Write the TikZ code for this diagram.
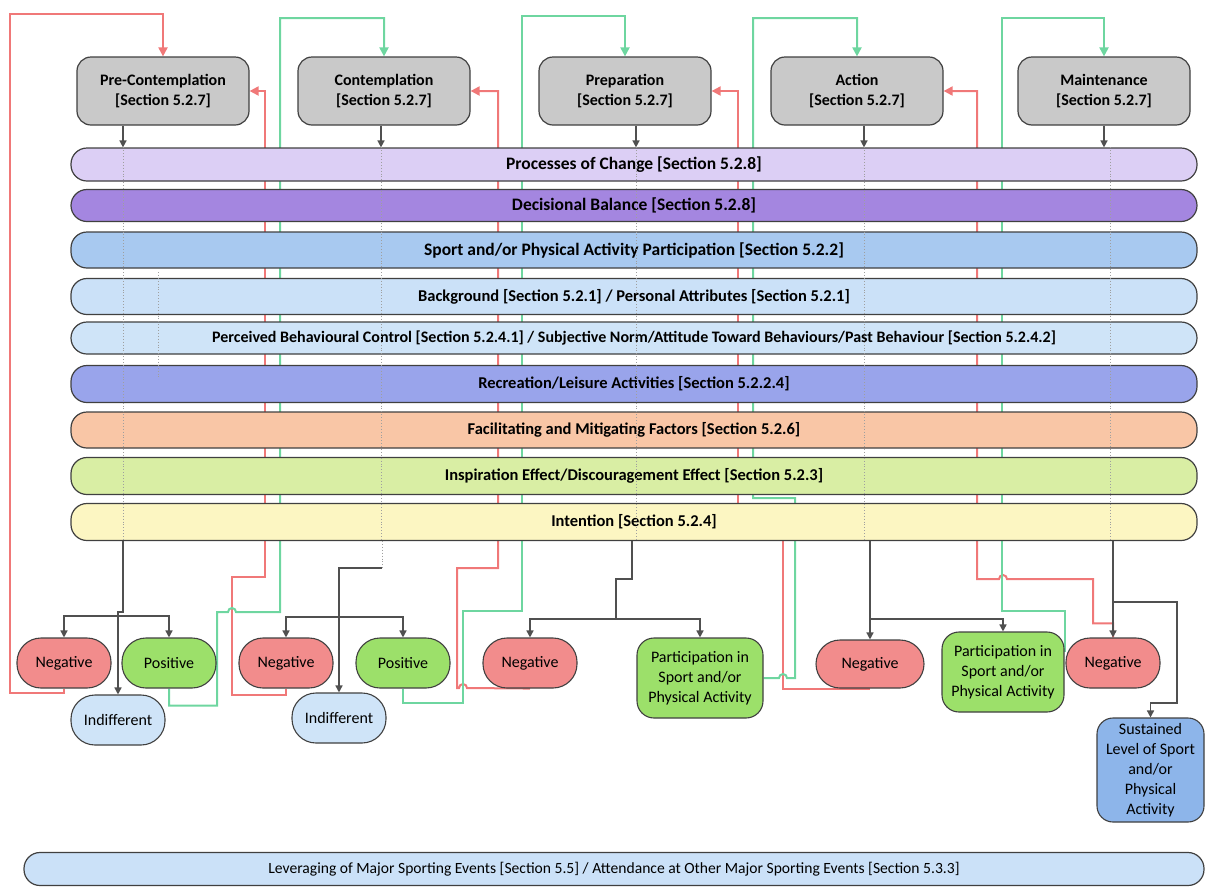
\documentclass[tikz,border=0pt]{standalone}
\usepackage{fontspec}
\setmainfont{Carlito}
\usetikzlibrary{positioning, arrows.meta, calc}
\pgfdeclarelayer{background}
\pgfsetlayers{background,main}

\definecolor{stagegray}{HTML}{C9C9C9}
\definecolor{edgegray}{HTML}{404040}
\definecolor{arrgray}{HTML}{505050}
\definecolor{relapse}{HTML}{F07878}
\definecolor{advance}{HTML}{6ED6A0}
\definecolor{negfill}{HTML}{F28C8C}
\definecolor{posfill}{HTML}{9CE06A}
\definecolor{indfill}{HTML}{CFE4F8}
\definecolor{susfill}{HTML}{8DB5EA}
\definecolor{barA}{HTML}{DCCFF5}
\definecolor{barB}{HTML}{A486E0}
\definecolor{barC}{HTML}{A8C9F0}
\definecolor{barD}{HTML}{CBE1F8}
\definecolor{barE}{HTML}{CFE4F8}
\definecolor{barF}{HTML}{99A4EB}
\definecolor{barG}{HTML}{F9C6A6}
\definecolor{barH}{HTML}{D9EEA4}
\definecolor{barI}{HTML}{FCF6C2}

\begin{document}
\begin{tikzpicture}[x=1pt,y=-1pt,
  stage/.style={draw=edgegray, fill=stagegray, line width=1.2pt, rounded corners=14pt,
    minimum width=172pt, minimum height=68pt, inner sep=0pt, align=center,
    font=\fontsize{16}{20}\selectfont\bfseries},
  bar/.style={draw=edgegray, line width=1.2pt, rounded corners=16pt,
    minimum width=1126pt, inner sep=0pt, font=\fontsize{16.5}{18}\selectfont\bfseries},
  pill/.style={draw=edgegray, line width=1.1pt, rounded corners=24pt,
    minimum width=94pt, minimum height=50pt, inner sep=0pt, align=center,
    font=\fontsize{16}{20}\selectfont},
  outbox/.style={draw=edgegray, line width=1.1pt, rounded corners=17pt,
    inner sep=0pt, align=center, font=\fontsize{16}{20}\selectfont},
  grayarr/.style={draw=arrgray, line width=1.5pt, -{Triangle[length=7pt,width=7pt]}},
  grayline/.style={draw=arrgray, line width=1.5pt},
  dotline/.style={draw=gray!75, line width=0.9pt, dotted},
  redarr/.style={draw=relapse, line width=2pt, -{Triangle[length=9pt,width=9pt]}},
  greenarr/.style={draw=advance, line width=2pt, -{Triangle[length=9pt,width=9pt]}},
]
\useasboundingbox (0,0) rectangle (1205,887);

% stages
\node[stage] (pre)   at (163,91)  {Pre-Contemplation\\{[}Section 5.2.7{]}};
\node[stage] (cont)  at (384,91)  {Contemplation\\{[}Section 5.2.7{]}};
\node[stage] (prep)  at (625,91)  {Preparation\\{[}Section 5.2.7{]}};
\node[stage] (act)   at (857,91)  {Action\\{[}Section 5.2.7{]}};
\node[stage] (maint) at (1104,91) {Maintenance\\{[}Section 5.2.7{]}};

% factor bars
\node[bar, fill=barA, minimum height=33pt, font=\fontsize{17.5}{20}\selectfont\bfseries] (procs) at (634,164.5)
  {Processes of Change [Section 5.2.8]};
\node[bar, fill=barB, minimum height=32pt, font=\fontsize{17.5}{20}\selectfont\bfseries] (decis) at (634,205.5)
  {Decisional Balance [Section 5.2.8]};
\node[bar, fill=barC, minimum height=36pt, font=\fontsize{17.5}{20}\selectfont\bfseries] (sport) at (634,250)
  {Sport and/or Physical Activity Participation [Section 5.2.2]};
\node[bar, fill=barD, minimum height=36pt] (backg)  at (634,296.5) {Background [Section 5.2.1] / Personal Attributes [Section 5.2.1]};
\node[bar, fill=barE, minimum height=32pt, font=\fontsize{16}{18}\selectfont\bfseries] (percv) at (634,338)
  {Perceived Behavioural Control [Section 5.2.4.1] / Subjective Norm/Attitude Toward Behaviours/Past Behaviour [Section 5.2.4.2]};
\node[bar, fill=barF, minimum height=37pt] (recr)   at (634,384)   {Recreation/Leisure Activities [Section 5.2.2.4]};
\node[bar, fill=barG, minimum height=36pt] (facil)  at (634,430)   {Facilitating and Mitigating Factors [Section 5.2.6]};
\node[bar, fill=barH, minimum height=37pt] (inspi)  at (634,476)   {Inspiration Effect/Discouragement Effect [Section 5.2.3]};
\node[bar, fill=barI, minimum height=37pt] (intent) at (634,522)   {Intention [Section 5.2.4]};
\node[bar, fill=barD, minimum height=33pt, minimum width=1180pt, font=\fontsize{15.6}{17}\selectfont] (lever) at (614,869)
  {Leveraging of Major Sporting Events [Section 5.5] / Attendance at Other Major Sporting Events [Section 5.3.3]};

% outcomes
\node[pill, fill=negfill] (neg1) at (64,663)  {Negative};
\node[pill, fill=posfill] (pos1) at (169,663) {Positive};
\node[pill, fill=indfill] (ind1) at (118,720) {Indifferent};
\node[pill, fill=negfill] (neg2) at (286,663) {Negative};
\node[pill, fill=posfill] (pos2) at (403,663) {Positive};
\node[pill, fill=indfill] (ind2) at (339,718) {Indifferent};
\node[pill, fill=negfill] (neg3) at (530,663) {Negative};
\node[outbox, fill=posfill, minimum width=126pt, minimum height=80pt] (part3) at (700,678)
  {Participation in\\Sport and/or\\Physical Activity};
\node[pill, fill=negfill, minimum width=108pt, minimum height=48pt] (neg4) at (870,664) {Negative};
\node[outbox, fill=posfill, minimum width=122pt, minimum height=80pt] (part4) at (1003,672)
  {Participation in\\Sport and/or\\Physical Activity};
\node[pill, fill=negfill] (neg5) at (1113,663) {Negative};
\node[outbox, fill=susfill, rounded corners=16pt, minimum width=107pt, minimum height=104pt] (sust) at (1150.5,770)
  {Sustained\\Level of Sport\\and/or\\Physical\\Activity};

% columns
\coordinate (c1) at (123,0);
\coordinate (c2) at (381,0);
\coordinate (c3) at (636,0);
\coordinate (c4) at (864,0);
\coordinate (c5) at (1110,0);

\draw[grayarr] (pre.south -| c1) -- (procs.north -| c1);
\draw[grayarr] (cont.south -| c2) -- (procs.north -| c2);
\draw[grayarr] (prep.south -| c3) -- (procs.north -| c3);
\draw[grayarr] (act.south -| c4) -- (procs.north -| c4);
\draw[grayarr] (maint.south -| maint) -- (procs.north -| maint);

\foreach \c in {c1,c2,c3,c4,c5}
  \draw[dotline] (procs.north -| \c) -- (intent.south -| \c);
\draw[dotline] (158,272) -- (158,378);

% stage outputs
\coordinate (j1) at (118,616);
\draw[grayarr] (intent.south -| c1) |- (118,612) -- (ind1.north);
\draw[grayarr] (j1) -| (neg1.north);
\draw[grayarr] (j1) -| (pos1.north);

\coordinate (k2) at (382,568);
\coordinate (j2) at (339,617);
\draw[dotline] (intent.south -| k2) -- (k2);
\draw[grayarr] (k2) -| (ind2.north);
\draw[grayarr] (j2) -| (neg2.north);
\draw[grayarr] (j2) -| (pos2.north);

\coordinate (j3) at (616,619);
\draw[grayline] (intent.south -| 632,0) |- (616,579) -- (j3);
\draw[grayarr] (j3) -| (neg3.north);
\draw[grayarr] (j3) -| (part3.north);

\coordinate (j4) at (870,619);
\draw[grayarr] (intent.south -| neg4.north) -- (neg4.north);
\draw[grayarr] (j4) -| (part4.north);

\coordinate (j5) at (1113,602);
\draw[grayarr] (intent.south -| neg5.north) -- (neg5.north);
\draw[grayarr] (j5) -| (1177,703) -| (sust.north);

% relapse and progression loops
\begin{pgfonlayer}{background}
\draw[redarr] (neg1.south) -- ++(0,4) -| (10,14) -| (pre.north);
\draw[redarr] (neg2.south) -- ++(0,6) -| (232,577) -- (265,577) |- (pre.east);
\draw[redarr] (neg3.south) -- (467,688) arc[start angle=0, end angle=-180, radius=4]
  -- (457,688) -- (457,568) -- (498,568) |- (cont.east);
\draw[redarr] (neg4.south) -| (783,522) -- (738,522) |- (prep.east);
\draw[redarr] (neg5.north) -- ++(0,-14) -| (1093,579) -- (1007,579)
  arc[start angle=0, end angle=-180, radius=4] -- (977,579) |- (act.east);

\draw[greenarr] (pos1.south) -- ++(0,17) -| (217,612) -- (228,612)
  arc[start angle=180, end angle=360, radius=4] -- (280,612) -- (280,18) -| (cont.north);
\draw[greenarr] (pos2.south) -- ++(0,14) -| (463,611) -| (522,16) -| (prep.north);
\draw[greenarr] (part3.east) -- (779,678) arc[start angle=180, end angle=360, radius=4]
  -- (795,678) -- (795,498) -- (753,498) -- (753,18) -| (act.north);
\draw[greenarr] ([yshift=20pt]part4.east) |- (1002,611) -- (1002,18) -| (maint.north);
\end{pgfonlayer}
\end{tikzpicture}
\end{document}
